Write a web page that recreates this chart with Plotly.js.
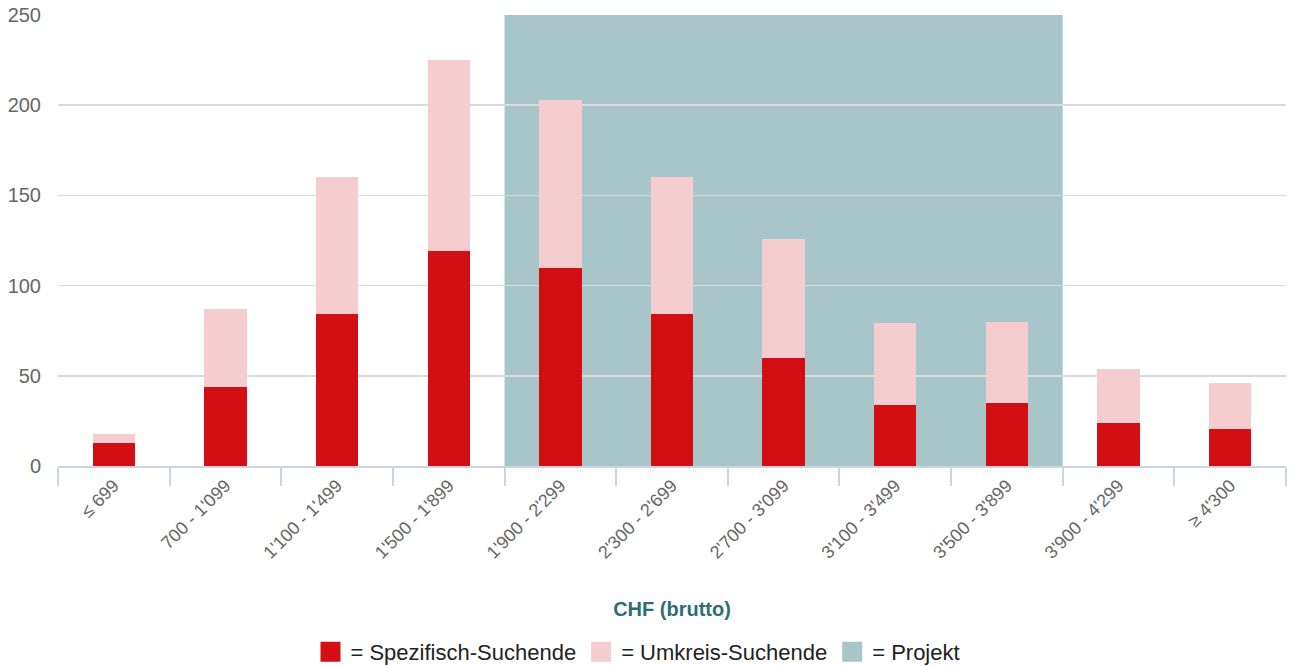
<!DOCTYPE html>
<html>
<head>
<meta charset="utf-8">
<script src="https://cdn.plot.ly/plotly-3.0.1.min.js"></script>
<style>
html,body{margin:0;padding:0;background:#fff;}
#chart{width:1292px;height:666px;}
</style>
</head>
<body>
<div id="chart"></div>
<script>
// Data
const categories = ["≤ 699", "700 - 1'099", "1'100 - 1'499", "1'500 - 1'899", "1'900 - 2'299", "2'300 - 2'699", "2'700 - 3'099", "3'100 - 3'499", "3'500 - 3'899", "3'900 - 4'299", "≥ 4'300"];
const spezifisch = [13, 44, 84, 119, 110, 84, 60, 34, 35, 24, 20.5];
const umkreis = [5, 43, 76, 106, 93, 76, 66, 45, 45, 30, 25.5];
const projektStart = "1'900 - 2'299";
const projektEnd = "3'500 - 3'899";
const seriesNames = ["= Spezifisch-Suchende", "= Umkreis-Suchende", "= Projekt"];
const yMax = 250;

const RED = "#d40f14", PINK = "#f5cdd0", TEAL = "#a8c6c9";
const FONT = "Liberation Sans, Arial, sans-serif";

const iStart = categories.indexOf(projektStart);
const iEnd = categories.indexOf(projektEnd);

function legendEntry(name, color) {
  return {type: "scatter", mode: "markers", x: [null], y: [null], name: name,
          marker: {symbol: "square", size: 16, color: color, line: {width: 4, color: color}}};
}

const traces = [
  {type: "bar", x: categories, y: spezifisch, marker: {color: RED, line: {width: 0}}, width: 0.38, showlegend: false, hoverinfo: "skip"},
  {type: "bar", x: categories, y: umkreis, marker: {color: PINK, line: {width: 0}}, width: 0.38, showlegend: false, hoverinfo: "skip"},
  legendEntry(seriesNames[0], RED),
  legendEntry(seriesNames[1], PINK),
  legendEntry(seriesNames[2], TEAL)
];

const layout = {
  width: 1292, height: 666,
  margin: {l: 58, r: 6, t: 15, b: 200},
  paper_bgcolor: "#fff", plot_bgcolor: "#fff",
  barmode: "stack",
  font: {family: FONT, color: "#666"},
  hovermode: false,
  xaxis: {
    type: "category",
    categoryorder: "array", categoryarray: categories,
    range: [-0.5, categories.length - 0.5],
    tickson: "boundaries",
    ticks: "outside", ticklen: 18, tickwidth: 2, tickcolor: "#c9d5e3",
    showline: true, linecolor: "#c9d5e3", linewidth: 2,
    showgrid: false, zeroline: false,
    tickangle: -45,
    tickfont: {family: FONT, size: 18, color: "#666"},
    title: {text: "CHF (brutto)", font: {family: FONT, size: 20, color: "#2e6e73", weight: "bold"}, standoff: 40},
    automargin: false
  },
  yaxis: {
    range: [0, yMax],
    tickvals: [0, 50, 100, 150, 200, 250],
    showgrid: true, gridcolor: "#dadada", gridwidth: 1.5,
    zeroline: false, showline: false, ticks: "",
    ticklabelstandoff: 16,
    tickfont: {family: FONT, size: 20, color: "#666"},
    automargin: false
  },
  shapes: [{
    type: "rect", layer: "below",
    xref: "x", yref: "y",
    x0: iStart - 0.5, x1: iEnd + 0.5, y0: 0, y1: yMax,
    fillcolor: TEAL, line: {width: 0}
  }],
  legend: {
    orientation: "h", traceorder: "normal",
    x: 0.4723, xanchor: "center",
    yref: "container", y: 0.021, yanchor: "middle",
    font: {family: FONT, size: 22, color: "#222"},
    itemclick: false, itemdoubleclick: false,
    bgcolor: "rgba(0,0,0,0)"
  },
  showlegend: true
};

Plotly.newPlot("chart", traces, layout, {displayModeBar: false, staticPlot: true});
</script>
</body>
</html>
